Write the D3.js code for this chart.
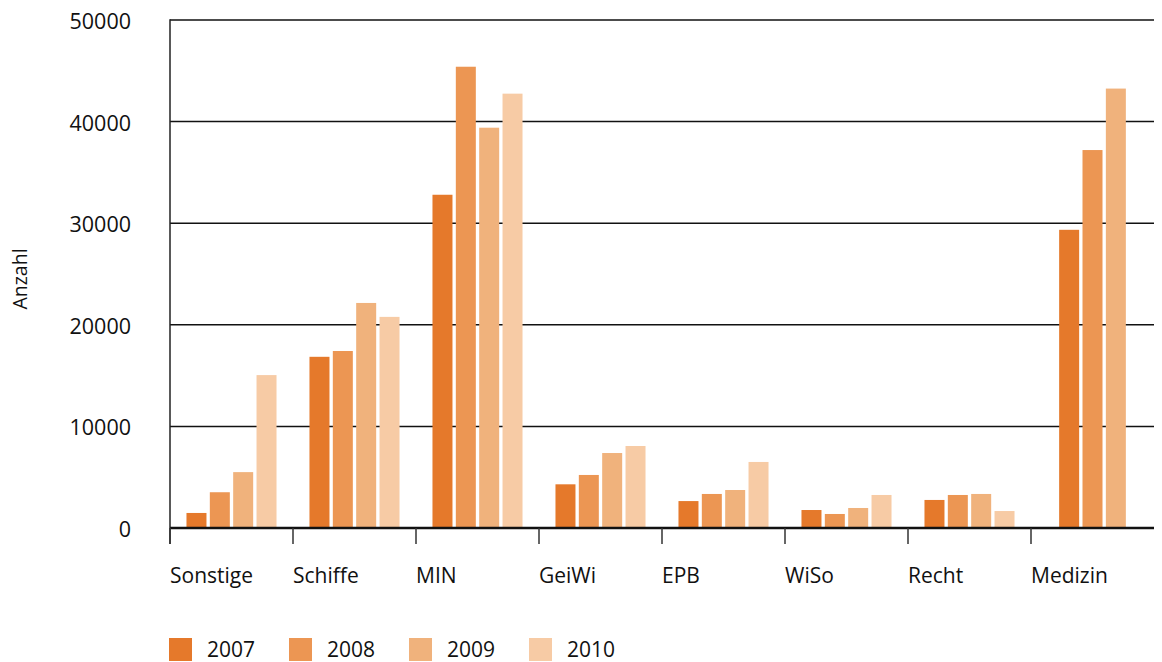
<!DOCTYPE html>
<html>
<head>
<meta charset="utf-8">
<script src="https://cdn.jsdelivr.net/npm/d3@7"></script>
<style>
  html, body { margin: 0; padding: 0; background: #fff; }
  svg { display: block; }
</style>
</head>
<body>
<svg id="chart" width="1162" height="662"></svg>
<script>
const categories = ["Sonstige", "Schiffe", "MIN", "GeiWi", "EPB", "WiSo", "Recht", "Medizin"];
const seriesNames = ["2007", "2008", "2009", "2010"];
const values2007 = [1480, 16850, 32800, 4300, 2650, 1770, 2760, 29350];
const values2008 = [3520, 17420, 45400, 5220, 3350, 1380, 3250, 37200];
const values2009 = [5500, 22150, 39400, 7380, 3740, 1970, 3350, 43250];
const values2010 = [15050, 20780, 42750, 8070, 6500, 3250, 1670, null];
const yTicks = [0, 10000, 20000, 30000, 40000, 50000];
const colors = ["#e5792b", "#ec9653", "#f0b27c", "#f7cba5"];

const seriesValues = [values2007, values2008, values2009, values2010];

(function () {
const svg = d3.select("#chart");
const mLeft = 170, mRight = 1154, mTop = 20, zeroY = 528;
const font = "Open Sans, sans-serif";

const x0 = d3.scaleBand().domain(categories).range([mLeft, mRight]).paddingInner(0).paddingOuter(0);
const y = d3.scaleLinear().domain([0, 50000]).range([zeroY, mTop]);

const barW = 20, gap = 3.35;

// gridlines
svg.append("g").selectAll("line")
  .data(yTicks.filter(t => t > 0))
  .join("line")
  .attr("x1", mLeft).attr("x2", mRight)
  .attr("y1", d => y(d)).attr("y2", d => y(d))
  .attr("stroke", "#111").attr("stroke-width", 1.5);

// bars
const barsG = svg.append("g");
categories.forEach((cat, ci) => {
  const present = seriesNames.map((s, si) => ({ s, si, v: seriesValues[si][ci] }))
    .filter(d => d.v !== null && d.v !== undefined);
  const n = present.length;
  const w = n * (barW + gap) - gap;
  const c = x0(cat) + x0.bandwidth() / 2;
  const x1 = d3.scaleBand().domain(present.map(d => d.s))
    .range([c - w / 2, c + w / 2]).paddingInner(gap / (barW + gap)).paddingOuter(0);
  barsG.append("g").selectAll("rect")
    .data(present)
    .join("rect")
    .attr("x", d => x1(d.s))
    .attr("width", x1.bandwidth())
    .attr("y", d => y(d.v))
    .attr("height", d => y(0) - y(d.v))
    .attr("fill", d => colors[d.si]);
});

// zero line
svg.append("line")
  .attr("x1", mLeft).attr("x2", mRight)
  .attr("y1", y(0)).attr("y2", y(0))
  .attr("stroke", "#111").attr("stroke-width", 2.5);

// left axis line
svg.append("line")
  .attr("x1", mLeft).attr("x2", mLeft)
  .attr("y1", mTop - 0.75).attr("y2", zeroY + 16)
  .attr("stroke", "#222").attr("stroke-width", 1.5);

// category ticks
svg.append("g").selectAll("line")
  .data(categories)
  .join("line")
  .attr("x1", d => x0(d)).attr("x2", d => x0(d))
  .attr("y1", zeroY).attr("y2", zeroY + 16)
  .attr("stroke", "#333").attr("stroke-width", 1.5);

// y tick labels
svg.append("g").selectAll("text")
  .data(yTicks)
  .join("text")
  .attr("x", 131)
  .attr("y", d => y(d))
  .attr("dy", "0.42em")
  .attr("text-anchor", "end")
  .attr("font-family", font)
  .attr("font-size", 21.5)
  .attr("fill", "#111")
  .text(d => d);

// category labels
svg.append("g").selectAll("text")
  .data(categories)
  .join("text")
  .attr("x", d => x0(d))
  .attr("y", 583)
  .attr("font-family", font)
  .attr("font-size", 21)
  .attr("fill", "#111")
  .text(d => d);

// y axis title
svg.append("text")
  .attr("transform", "translate(27,279) rotate(-90)")
  .attr("text-anchor", "middle")
  .attr("font-family", font)
  .attr("font-size", 19.5)
  .attr("fill", "#111")
  .text("Anzahl");

// legend
const legend = svg.append("g").selectAll("g")
  .data(seriesNames)
  .join("g")
  .attr("transform", (d, i) => `translate(${169 + i * 120},638)`);
legend.append("rect")
  .attr("width", 23).attr("height", 23)
  .attr("fill", (d, i) => colors[i]);
legend.append("text")
  .attr("x", 38).attr("y", 18.5)
  .attr("font-family", font)
  .attr("font-size", 21)
  .attr("fill", "#111")
  .text(d => d);
})();
</script>
</body>
</html>
